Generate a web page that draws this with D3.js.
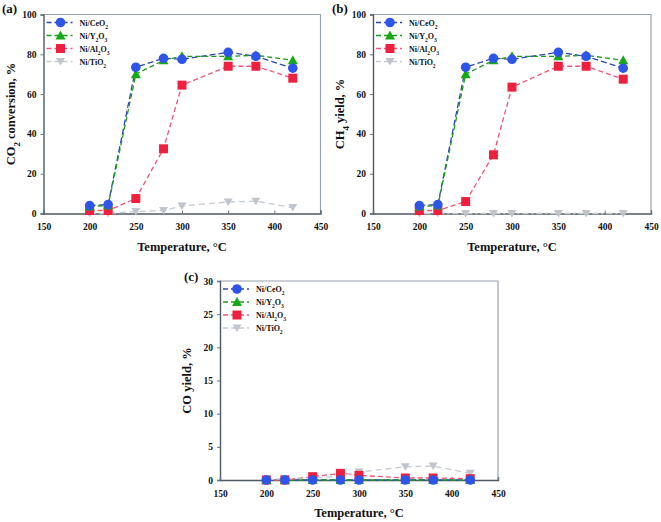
<!DOCTYPE html>
<html><head><meta charset="utf-8">
<script src="https://cdn.jsdelivr.net/npm/d3@7"></script>
<style>
body{margin:0;background:#fff;}
svg{display:block;}
text{font-family:"Liberation Serif","Times New Roman",serif;font-weight:bold;fill:#111;}
</style></head>
<body>
<script>
const temps = [200, 220, 250, 280, 300, 350, 380, 420];
const seriesNames = ["Ni/CeO2", "Ni/Y2O3", "Ni/Al2O3", "Ni/TiO2"];
const co2CeO2 = [4, 4.5, 73.5, 78, 77.5, 81, 79, 73];
const co2Y2O3 = [3.5, 4, 70, 77, 79, 79, 79.5, 77];
const co2Al2O3 = [1.5, 1.5, 7.5, 32.5, 64.5, 74, 74, 68];
const co2TiO2 = [0, 0, 1, 1.5, 3.8, 5.8, 6.2, 3];
const ch4CeO2 = [4, 4.5, 73.5, 78, 77.5, 81, 79, 73];
const ch4Y2O3 = [3.5, 4, 70, 77, 79, 79, 79.5, 77];
const ch4Al2O3 = [1.5, 1.5, 6, 29.5, 63.5, 74, 74, 67.5];
const ch4TiO2 = [0, 0, 0, 0, 0, 0, 0, 0];
const coCeO2 = [0, 0, 0, 0, 0, 0, 0, 0];
const coY2O3 = [0, 0, 0, 0, 0, 0, 0, 0];
const coAl2O3 = [0, 0, 0.5, 1.0, 0.7, 0.3, 0.3, 0.2];
const coTiO2 = [0.1, 0.2, 0.3, 0.6, 1.2, 2.0, 2.1, 1.0];
const xTicks = [150, 200, 250, 300, 350, 400, 450];
const yTicksAB = [0, 20, 40, 60, 80, 100];
const yTicksC = [0, 5, 10, 15, 20, 25, 30];

const styles = [
  {line:"#2b47b5", fill:"#2f55e8", shape:"circle", dash:"6,3"},
  {line:"#1f9a1f", fill:"#17a817", shape:"triangle", dash:"5,3"},
  {line:"#ee5577", fill:"#ee2040", shape:"square", dash:"5,3"},
  {line:"#c4c9d2", fill:"#c0c4cc", shape:"tri-down", dash:"6,4"}
];

const svg = d3.select("body").append("svg").attr("width",661).attr("height",522);

function subText(sel, parts){
  parts.forEach(p=>{
    const t = sel.append("tspan").text(p[0]);
    if(p[1]) t.attr("baseline-shift","sub").style("font-size","0.7em");
  });
}
const nameParts = {
  "Ni/CeO2":[["Ni/CeO",0],["2",1]],
  "Ni/Y2O3":[["Ni/Y",0],["2",1],["O",0],["3",1]],
  "Ni/Al2O3":[["Ni/Al",0],["2",1],["O",0],["3",1]],
  "Ni/TiO2":[["Ni/TiO",0],["2",1]]
};

function marker(g, shape, x, y, fill){
  if(shape==="circle") g.append("circle").attr("cx",x).attr("cy",y).attr("r",4.8).attr("fill",fill);
  else if(shape==="square") g.append("rect").attr("x",x-4.5).attr("y",y-4.5).attr("width",9).attr("height",9).attr("fill",fill);
  else if(shape==="triangle") g.append("path").attr("d",`M${x},${y-5}L${x+5},${y+4}L${x-5},${y+4}Z`).attr("fill",fill);
  else g.append("path").attr("d",`M${x-4.5},${y-3.5}L${x+4.5},${y-3.5}L${x},${y+4}Z`).attr("fill",fill);
}

function panel(opt){
  const {x0,y0,w,h,yMax,yTicks,data,ytitle,label,lx,ly,dashes} = opt;
  const g = svg.append("g");
  const x = d3.scaleLinear().domain([150,450]).range([x0,x0+w]);
  const y = d3.scaleLinear().domain([0,yMax]).range([y0+h,y0]);
  g.append("path").attr("d",`M${x0},${y0}H${x0+w}V${y0+h}`).attr("fill","none").attr("stroke","#9aa2ad").attr("stroke-width",1.2);
  const ya = g.append("g").attr("transform",`translate(${x0},0)`).call(d3.axisLeft(y).tickValues(yTicks).tickSize(3).tickPadding(4));
  const xa = g.append("g").attr("transform",`translate(0,${y0+h})`).call(d3.axisBottom(x).tickValues(xTicks).tickSize(-3).tickPadding(10));
  [ya,xa].forEach(a=>{
    a.select(".domain").attr("stroke","#4f5866").attr("stroke-width",1.4);
    a.selectAll(".tick line").attr("stroke","#6a7380");
    a.selectAll("text").style("font-family",'"Liberation Serif",serif').style("font-weight","bold").style("font-size","9.5px").attr("fill","#111");
  });
  g.append("text").attr("x",x0+w/2).attr("y",y0+h+37).attr("text-anchor","middle").style("font-size","12.5px").text("Temperature, °C");
  const yt = g.append("text").attr("transform",`translate(${x0-29},${y0+h/2}) rotate(-90)`).attr("text-anchor","middle").style("font-size","12.5px");
  subText(yt, ytitle);
  g.append("text").attr("x",lx).attr("y",ly).style("font-size","13px").text(label);
  data.forEach((vals,i)=>{
    const st = styles[i];
    const line = d3.line().x((d,j)=>x(temps[j])).y(d=>y(d));
    g.append("path").datum(vals).attr("d",line).attr("fill","none").attr("stroke",st.line).attr("stroke-width",1.3).attr("stroke-dasharray",dashes&&dashes[i]?dashes[i]:st.dash);
  });
  data.slice().map((v,i)=>[v,i]).reverse().forEach(([vals,i])=>{
    vals.forEach((v,j)=>marker(g, styles[i].shape, x(temps[j]), y(v), styles[i].fill));
  });
  seriesNames.forEach((n,i)=>{
    const ly2 = y0+8+i*13;
    const st = styles[i];
    g.append("line").attr("x1",x0+3).attr("x2",x0+29).attr("y1",ly2).attr("y2",ly2).attr("stroke",st.line).attr("stroke-width",1.3).attr("stroke-dasharray","5,3");
    marker(g, st.shape, x0+17, ly2, st.fill);
    const t = g.append("text").attr("x",x0+36).attr("y",ly2+3).style("font-size","8px");
    subText(t, nameParts[n]);
  });
}

panel({x0:43.5,y0:14.5,w:277,h:199,yMax:100,yTicks:yTicksAB,data:[co2CeO2,co2Y2O3,co2Al2O3,co2TiO2],
  ytitle:[["CO",0],["2",1],[" conversion, %",0]],label:"(a)",lx:2,ly:13});
panel({x0:373,y0:14.5,w:278,h:199,yMax:100,yTicks:yTicksAB,data:[ch4CeO2,ch4Y2O3,ch4Al2O3,ch4TiO2],
  ytitle:[["CH",0],["4",1],[" yield, %",0]],label:"(b)",lx:332,ly:13,dashes:[null,null,null,"2,3,6,3"]});
panel({x0:220,y0:281,w:278,h:199,yMax:30,yTicks:yTicksC,data:[coCeO2,coY2O3,coAl2O3,coTiO2],
  ytitle:[["CO yield, %",0]],label:"(c)",lx:184,ly:281});
</script>
</body></html>
